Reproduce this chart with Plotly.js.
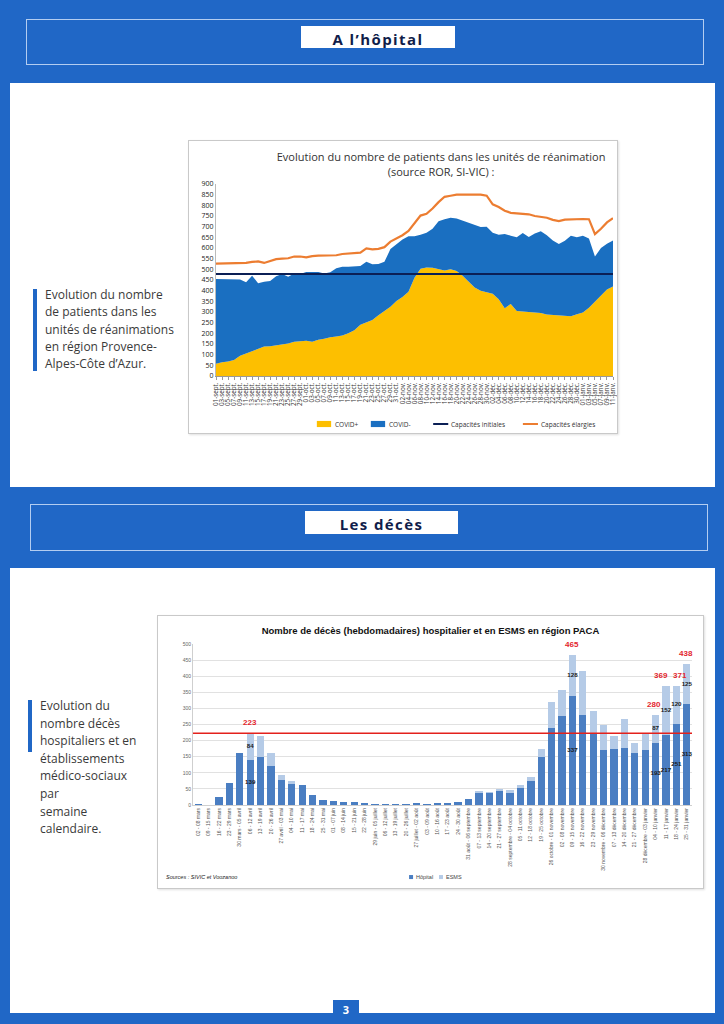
<!DOCTYPE html>
<html><head><meta charset="utf-8">
<script src="https://cdn.plot.ly/plotly-3.0.1.min.js"></script>
<style>
html,body{margin:0;padding:0;}
body{width:724px;height:1024px;background:#2067c6;position:relative;overflow:hidden;font-family:'Open Sans',sans-serif;}
.hdr{position:absolute;border:1px solid #b3cdf1;box-sizing:border-box;}
.lbl{position:absolute;background:#fff;color:#101d4a;font-weight:bold;font-size:15px;text-align:center;letter-spacing:1.4px;box-sizing:border-box;}
.panel{position:absolute;background:#fff;}
.box{position:absolute;border:1px solid #c9c9c9;background:#fff;box-shadow:1px 1px 2px rgba(0,0,0,0.12);}
.txt{position:absolute;color:#3a3a3a;font-size:12px;}
.vbar{position:absolute;background:#2067c6;}
</style>
</head><body>
<div class="hdr" style="left:26px;top:19px;width:678px;height:46px;"></div>
<div class="lbl" style="left:301px;top:26px;width:154px;height:22px;line-height:26px;">A l’hôpital</div>
<div class="panel" style="left:10px;top:83px;width:705px;height:404px;"></div>
<div class="hdr" style="left:30px;top:504px;width:678px;height:47px;"></div>
<div class="lbl" style="left:305px;top:511px;width:153px;height:23px;line-height:27px;">Les décès</div>
<div class="panel" style="left:10px;top:568px;width:705px;height:445px;"></div>
<div class="vbar" style="left:333px;top:1000px;width:26px;height:24px;color:#fff;font-weight:bold;font-size:11px;text-align:center;line-height:20px;">3</div>

<div class="vbar" style="left:33px;top:289px;width:4px;height:82px;"></div>
<div class="txt" style="left:45px;top:286px;line-height:17.3px;">Evolution du nombre<br>de patients dans les<br>unités de réanimations<br>en région Provence-<br>Alpes-Côte d’Azur.</div>

<div class="vbar" style="left:28px;top:700px;width:4px;height:52px;"></div>
<div class="txt" style="left:40px;top:697px;line-height:17.6px;">Evolution du<br>nombre décès<br>hospitaliers et en<br>établissements<br>médico-sociaux<br>par<br>semaine<br>calendaire.</div>

<div class="box" style="left:188px;top:140px;width:428px;height:292px;"><div id="c1"></div></div>
<div class="box" style="left:157px;top:615px;width:545px;height:272px;"><div id="c2"></div></div>

<script>
// ---------- Chart 1 : patients en réanimation ----------
const dates1 = [
 "01-sept.","03-sept.","05-sept.","07-sept.","09-sept.","11-sept.","13-sept.","15-sept.","17-sept.","19-sept.",
 "21-sept.","23-sept.","25-sept.","27-sept.","29-sept.","01-oct.","03-oct.","05-oct.","07-oct.","09-oct.",
 "11-oct.","13-oct.","15-oct.","17-oct.","19-oct.","21-oct.","23-oct.","25-oct.","27-oct.","29-oct.",
 "31-oct.","02-nov.","04-nov.","06-nov.","08-nov.","10-nov.","12-nov.","14-nov.","16-nov.","18-nov.",
 "20-nov.","22-nov.","24-nov.","26-nov.","28-nov.","30-nov.","02-déc.","04-déc.","06-déc.","08-déc.",
 "10-déc.","12-déc.","14-déc.","16-déc.","18-déc.","20-déc.","22-déc.","24-déc.","26-déc.","28-déc.",
 "30-déc.","01-janv.","03-janv.","05-janv.","07-janv.","09-janv.","11-janv."
];
const covidPlus = [57,65,68,75,95,105,118,128,138,140,143,148,152,160,163,165,160,170,175,182,185,190,200,215,240,250,262,285,305,325,352,370,395,460,503,509,508,500,495,500,492,470,440,415,400,392,385,360,318,338,305,302,300,300,295,288,286,286,285,280,290,298,320,350,380,405,420];
const covidMinus = [398,390,387,380,357,335,352,307,304,305,325,330,313,320,315,323,329,318,305,304,320,322,312,299,276,285,262,240,230,270,265,270,260,195,159,163,182,225,240,242,246,258,276,290,298,308,287,302,348,320,345,368,352,368,383,372,349,333,349,378,360,360,325,210,220,215,215];
const capaInitiale = 478;
const capaElargie = [527,527,527,527,527,530,535,537,530,540,548,550,552,560,560,556,562,564,564,564,566,572,574,576,578,598,594,596,604,630,645,660,680,718,752,760,785,815,840,845,850,850,850,850,850,845,805,792,775,765,762,760,758,750,746,742,732,726,733,735,735,736,735,665,690,720,740];
const legende1 = ["COVID+","COVID-","Capacités initiales","Capacités élargies"];
const couleurs1 = ['#fdbf00','#1a6fc1','#0b1f55','#ec7d31'];

const traces1 = [
 {x:dates1, y:covidPlus, type:'scatter', mode:'lines', stackgroup:'a', name:legende1[0], line:{width:0,color:couleurs1[0]}, fillcolor:couleurs1[0]},
 {x:dates1, y:covidMinus, type:'scatter', mode:'lines', stackgroup:'a', name:legende1[1], line:{width:0,color:couleurs1[1]}, fillcolor:couleurs1[1]},
 {x:dates1, y:dates1.map(()=>capaInitiale), type:'scatter', mode:'lines', name:legende1[2], line:{width:2,color:couleurs1[2]}},
 {x:dates1, y:capaElargie, type:'scatter', mode:'lines', name:legende1[3], line:{width:2.2,color:couleurs1[3]}}
];
// legend drawn manually (paper coordinates)
const legX1 = [0.254, 0.390, 0.547, 0.773];
const shapes1 = [
 {type:'rect', xref:'paper', yref:'paper', x0:legX1[0], x1:legX1[0]+0.036, y0:-0.266, y1:-0.234, fillcolor:couleurs1[0], line:{width:0}},
 {type:'rect', xref:'paper', yref:'paper', x0:legX1[1], x1:legX1[1]+0.036, y0:-0.266, y1:-0.234, fillcolor:couleurs1[1], line:{width:0}},
 {type:'line', xref:'paper', yref:'paper', x0:legX1[2], x1:legX1[2]+0.038, y0:-0.25, y1:-0.25, line:{color:couleurs1[2], width:2}},
 {type:'line', xref:'paper', yref:'paper', x0:legX1[3], x1:legX1[3]+0.038, y0:-0.25, y1:-0.25, line:{color:couleurs1[3], width:2}}
];
const ann1 = legende1.map((t,i)=>({text:t, xref:'paper', yref:'paper', x:legX1[i]+0.04, xanchor:'left', y:-0.25, yanchor:'middle', showarrow:false, font:{size:6.5,color:'#333'}}));
const layout1 = {
 width:428, height:292, margin:{l:27,r:4,t:43,b:57},
 paper_bgcolor:'rgba(0,0,0,0)', plot_bgcolor:'#fff',
 font:{family:'Open Sans, sans-serif', color:'#333'},
 title:{text:'Evolution du nombre de patients dans les unités de réanimation<br>(source ROR, SI-VIC) :', font:{size:11,color:'#333'}, x:0.589, xanchor:'center', y:0.93, yanchor:'middle', xref:'container', yref:'container'},
 xaxis:{type:'category', range:[0,dates1.length-1], tickmode:'array', tickvals:dates1, ticktext:dates1, tickangle:-90, tickfont:{size:6.3,color:'#333'}, ticks:'outside', ticklen:3, tickcolor:'#999', showline:true, linecolor:'#999', showgrid:false, zeroline:false},
 yaxis:{range:[0,900], dtick:50, tickfont:{size:7,color:'#222'}, showgrid:false, showline:true, linecolor:'#bbb', zeroline:false, ticks:'', fixedrange:true},
 showlegend:false, shapes:shapes1, annotations:ann1
};
Plotly.newPlot('c1', traces1, layout1, {staticPlot:true, displayModeBar:false});

// ---------- Chart 2 : décès hebdomadaires ----------
const semaines = [
 "02 - 08 mars","09 - 15 mars","16 - 22 mars","23 - 29 mars","30 mars - 05 avril","06 - 12 avril","13 - 19 avril","20 - 26 avril",
 "27 avril - 03 mai","04 - 10 mai","11 - 17 mai","18 - 24 mai","25 - 31 mai","01 - 07 juin","08 - 14 juin","15 - 21 juin",
 "22 - 28 juin","29 juin - 05 juillet","06 - 12 juillet","13 - 19 juillet","20 - 26 juillet","27 juillet - 02 août","03 - 09 août","10 - 16 août",
 "17 - 23 août","24 - 30 août","31 août - 06 septembre","07 - 13 septembre","14 - 20 septembre","21 - 27 septembre","28 septembre - 04 octobre","05 - 11 octobre",
 "12 - 18 octobre","19 - 25 octobre","26 octobre - 01 novembre","02 - 08 novembre","09 - 15 novembre","16 - 22 novembre","23 - 29 novembre","30 novembre - 06 décembre",
 "07 - 13 décembre","14 - 20 décembre","21 - 27 décembre","28 décembre - 03 janvier","04 - 10 janvier","11 - 17 janvier","18 - 24 janvier","25 - 31 janvier"
];
const hopital = [2,1,25,67,162,139,150,120,77,64,61,31,17,13,8,10,6,4,2,4,2,6,3,5,6,10,18,38,36,45,38,52,76,148,240,275,337,278,220,172,175,178,160,170,193,217,251,313];
const esms =    [0,0,0,0,1,84,63,40,15,12,1,1,0,0,0,0,0,0,0,0,0,0,0,0,0,0,1,4,5,5,9,10,10,27,80,82,128,138,72,78,38,88,34,52,87,152,120,125];
const semainesEtiquetees = [5,36,44,45,46,47];
const decalageTotaux = [0,0,-2,-5,4,-1];
const couleurs2 = ['#4a7ec2','#b5cbe7'];

const totaux = hopital.map((h,i)=>h+esms[i]);
const picPremiereVague = Math.max(...totaux.slice(0,20));
const lx = semainesEtiquetees.map(i=>semaines[i]);

const traces2 = [
 {x:semaines, y:hopital, type:'bar', name:'Hôpital', marker:{color:couleurs2[0]}},
 {x:semaines, y:esms, type:'bar', name:'ESMS', marker:{color:couleurs2[1]}},
 {x:lx, y:semainesEtiquetees.map(i=>hopital[i]/2), text:semainesEtiquetees.map(i=>String(hopital[i])), type:'scatter', mode:'text', textposition:'middle center', textfont:{size:6.2,color:'#1b1b1b',weight:'bold'}, cliponaxis:false},
 {x:lx, y:semainesEtiquetees.map(i=>hopital[i]+esms[i]/2), text:semainesEtiquetees.map(i=>String(esms[i])), type:'scatter', mode:'text', textposition:'middle center', textfont:{size:6.2,color:'#1b1b1b',weight:'bold'}, cliponaxis:false}
];
const ann2 = semainesEtiquetees.map((i,k)=>({x:semaines[i], y:totaux[i], xref:'x', yref:'y', text:String(totaux[i]), showarrow:false, yanchor:'bottom', yshift:4, xshift:decalageTotaux[k], font:{size:8,color:'#e3262e',weight:'bold'}}));
ann2.push({text:'<i>Sources : SIVIC et Voozanoo</i>', xref:'paper', yref:'paper', x:-0.058, xanchor:'left', y:-0.447, yanchor:'middle', showarrow:false, font:{size:5.5,color:'#222'}});
ann2.push({text:'Hôpital', xref:'paper', yref:'paper', x:0.443, xanchor:'left', y:-0.447, yanchor:'middle', showarrow:false, font:{size:5.5,color:'#444'}});
ann2.push({text:'ESMS', xref:'paper', yref:'paper', x:0.503, xanchor:'left', y:-0.447, yanchor:'middle', showarrow:false, font:{size:5.5,color:'#444'}});
const layout2 = {
 width:545, height:272, margin:{l:35,r:11,t:28,b:83},
 paper_bgcolor:'rgba(0,0,0,0)', plot_bgcolor:'#fff',
 font:{family:'Liberation Sans, Arial, sans-serif', color:'#444'},
 barmode:'stack', bargap:0.3, showlegend:false,
 title:{text:'Nombre de décès (hebdomadaires) hospitalier et en ESMS en région PACA', font:{size:9.5,color:'#111',weight:'bold'}, x:0.5, xanchor:'center', y:0.945, yanchor:'middle', xref:'container', yref:'container'},
 xaxis:{type:'category', range:[-0.5, semaines.length-0.5], tickangle:-90, tickfont:{size:5,color:'#555'}, showgrid:false, showline:true, linecolor:'#cfcfcf', ticks:'', tickmode:'array', tickvals:semaines, ticktext:semaines},
 yaxis:{range:[0,500], dtick:50, gridcolor:'#d9d9d9', gridwidth:0.8, tickfont:{size:5,color:'#666'}, showline:true, linecolor:'#cfcfcf', zeroline:false},
 shapes:[
  {type:'line', xref:'paper', x0:0, x1:1, yref:'y', y0:picPremiereVague, y1:picPremiereVague, line:{color:'#e3211c', width:1.5}},
  {type:'rect', xref:'paper', yref:'paper', x0:0.433, x1:0.441, y0:-0.46, y1:-0.435, fillcolor:couleurs2[0], line:{width:0}},
  {type:'rect', xref:'paper', yref:'paper', x0:0.493, x1:0.501, y0:-0.46, y1:-0.435, fillcolor:couleurs2[1], line:{width:0}}
 ],
 annotations:ann2
};
Plotly.newPlot('c2', traces2, layout2, {staticPlot:true, displayModeBar:false});
</script>
</body></html>
